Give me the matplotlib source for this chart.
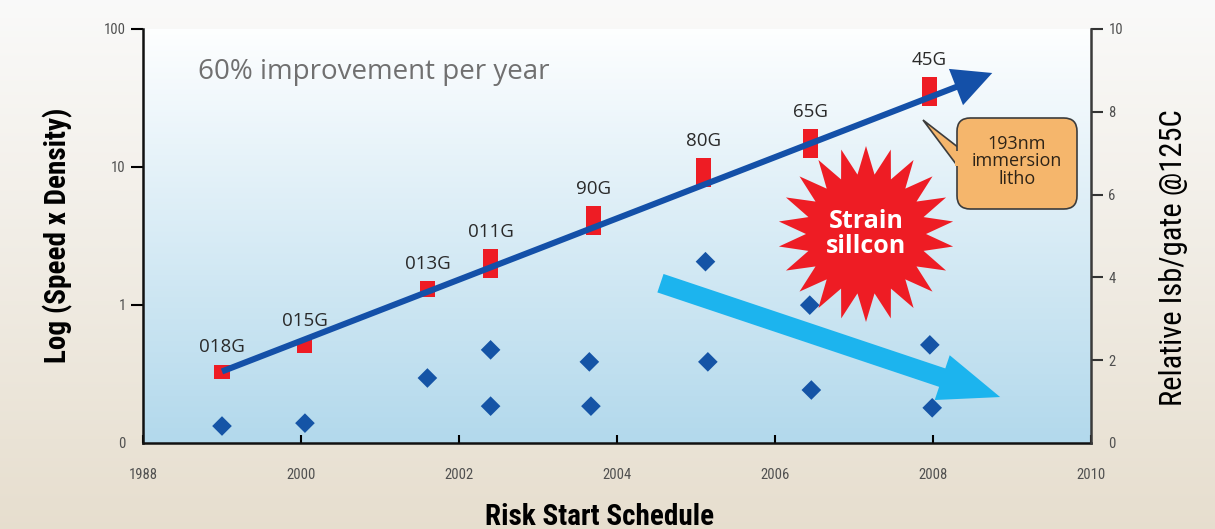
import numpy as np
import matplotlib
matplotlib.use("Agg")
import matplotlib.pyplot as plt
from matplotlib import font_manager
from matplotlib.patches import FancyArrowPatch, Polygon, FancyBboxPatch

# ---- data -------------------------------------------------------------
node_labels = ["018G", "015G", "013G", "011G", "90G", "80G", "65G", "45G"]
node_years = [1999.0, 2000.05, 2001.6, 2002.4, 2003.7, 2005.1, 2006.45, 2007.95]
perf_low = [0.29, 0.45, 1.14, 1.57, 3.2, 7.2, 11.6, 27.7]
perf_high = [0.37, 0.57, 1.49, 2.55, 5.2, 11.6, 18.8, 44.9]

trend_years = [1999.0, 2008.75]
trend_values = [0.33, 48.0]

isb_years = [1999.0, 2000.05, 2001.6, 2002.4, 2002.4, 2003.65, 2003.67,
             2005.12, 2005.15, 2006.44, 2006.46, 2007.96, 2007.99]
isb_values = [0.41, 0.48, 1.57, 2.25, 0.89, 1.96, 0.89,
              4.38, 1.96, 3.33, 1.28, 2.37, 0.85]

isb_trend_years = [2004.55, 2008.85]
isb_trend_values = [3.86, 1.11]

x_ticks = [1998, 2000, 2002, 2004, 2006, 2008, 2010]
x_tick_labels = ["1988", "2000", "2002", "2004", "2006", "2008", "2010"]
left_ticks = [0.1, 1, 10, 100]
left_tick_labels = ["0", "1", "10", "100"]
right_ticks = [0, 2, 4, 6, 8, 10]
right_tick_labels = ["0", "2", "4", "6", "8", "10"]

# ---- fonts ------------------------------------------------------------
available = {f.name for f in font_manager.fontManager.ttflist}


def pick(*names):
    for n in names:
        if n in available:
            return n
    return "DejaVu Sans"


narrow = pick("Liberation Sans Narrow", "Roboto Condensed", "Open Sans", "DejaVu Sans")
body = pick("Open Sans", "Noto Sans", "DejaVu Sans")

# ---- colours ----------------------------------------------------------
RED = "#ee1c24"
NAVY = "#1450a8"
DIAMOND = "#1554a6"
CYAN = "#1cb4ee"
TICK_GREY = "#505050"

# ---- figure & layout --------------------------------------------------
W, H = 1215, 529
fig = plt.figure(figsize=(W / 100, H / 100), dpi=100)
L, R, B, T = 143 / W, 1091 / W, 1 - 443 / H, 1 - 29 / H
AX_W, AX_H = 948, 414


def frac(px, py):
    """Pixel offsets inside the plot frame -> axes fraction."""
    return ((px - 143) / AX_W, (443 - py) / AX_H)


def vgrad(top, bottom, n=256):
    t = np.linspace(0, 1, n)[:, None, None]
    return np.array(top)[None, None, :] * (1 - t) + np.array(bottom)[None, None, :] * t


# page background
bg = fig.add_axes([0, 0, 1, 1], zorder=0)
bg.axis("off")
bg.imshow(vgrad((0.98, 0.98, 0.978), (0.905, 0.872, 0.810)),
          aspect="auto", extent=[0, 1, 0, 1])
bg.set_xlim(0, 1)
bg.set_ylim(0, 1)

# plot-area background
pbg = fig.add_axes([L, B, R - L, T - B], zorder=1)
pbg.axis("off")
pbg.imshow(vgrad((0.995, 0.998, 1.0), (0.70, 0.85, 0.925)),
           aspect="auto", extent=[0, 1, 0, 1])
pbg.set_xlim(0, 1)
pbg.set_ylim(0, 1)

ax = fig.add_axes([L, B, R - L, T - B], zorder=2)
ax.patch.set_visible(False)
ax2 = ax.twinx()
ax2.set_zorder(3)
ax2.patch.set_visible(False)

# ---- left axis: speed x density (log) -------------------------------
ax.set_yscale("log")
ax.set_xlim(1998, 2010)
ax.set_ylim(0.1, 100)

ax.bar(node_years, np.array(perf_high) - np.array(perf_low), bottom=perf_low,
       width=0.19, color=RED, zorder=2)
for lab, yr, hi in zip(node_labels, node_years, perf_high):
    ax.annotate(lab, (yr, hi), xytext=(0, 6), textcoords="offset points",
                ha="center", va="bottom", fontsize=13.5, color="#2a2a2a",
                family=body, zorder=4)

trend = FancyArrowPatch((trend_years[0], trend_values[0]),
                        (trend_years[1], trend_values[1]),
                        arrowstyle="simple,head_length=28,head_width=28,tail_width=4.4",
                        mutation_scale=1, shrinkA=0, shrinkB=0,
                        color=NAVY, lw=0, zorder=3)
ax.add_patch(trend)

ax.text(*frac(198, 72), "60% improvement per year", transform=ax.transAxes,
        ha="left", va="center", fontsize=20, color="#707070", family=body)

ax.set_xticks(x_ticks)
ax.set_xticklabels(x_tick_labels)
ax.set_yticks(left_ticks)
ax.set_yticklabels(left_tick_labels)
ax.yaxis.set_minor_locator(matplotlib.ticker.NullLocator())
ax.tick_params(axis="x", direction="in", length=6, width=1.5, pad=18,
               labelsize=10.5, labelcolor=TICK_GREY, top=False)
ax.tick_params(axis="y", direction="out", length=8.5, width=1.5, pad=4,
               labelsize=10.5, labelcolor=TICK_GREY, right=False)
ax.yaxis.get_major_ticks()[0].tick1line.set_visible(False)
for lbl in ax.get_xticklabels() + ax.get_yticklabels():
    lbl.set_family(narrow)

for side in ("top", "right"):
    ax.spines[side].set_visible(False)
for side in ("left", "bottom"):
    ax.spines[side].set_linewidth(1.8)
    ax.spines[side].set_color("#111111")

ax.set_ylabel("Log (Speed x Density)", fontsize=21, fontweight="bold",
              family=narrow, va="center")
ax.yaxis.set_label_coords(*frac(58, 235))
ax.set_xlabel("Risk Start Schedule", fontsize=21, fontweight="bold",
              family=narrow, va="center")
ax.xaxis.set_label_coords(*frac(600, 517))

# ---- right axis: relative Isb/gate ----------------------------------
ax2.set_ylim(0, 10)
ax2.set_yticks(right_ticks)
ax2.set_yticklabels(right_tick_labels)
ax2.tick_params(axis="y", direction="out", length=8.5, width=1.5, pad=4,
                labelsize=10.5, labelcolor=TICK_GREY, color="#333333")
ax2.yaxis.get_major_ticks()[0].tick2line.set_visible(False)
for lbl in ax2.get_yticklabels():
    lbl.set_family(narrow)
for side in ("top", "left", "bottom"):
    ax2.spines[side].set_visible(False)
ax2.spines["right"].set_linewidth(1.8)
ax2.spines["right"].set_color("#3a3a3a")
ax2.set_ylabel("Relative Isb/gate @125C", fontsize=22, family=narrow,
               rotation=90, va="center")
ax2.yaxis.set_label_coords(*frac(1173, 258))

isb_arrow = FancyArrowPatch((isb_trend_years[0], isb_trend_values[0]),
                            (isb_trend_years[1], isb_trend_values[1]),
                            arrowstyle="simple,head_length=44,head_width=34,tail_width=14",
                            mutation_scale=1, shrinkA=0, shrinkB=0,
                            color=CYAN, lw=0, zorder=2)
ax2.add_patch(isb_arrow)

# strain-silicon starburst
n_spikes = 22
cx, cy = frac(866, 234)
ang = np.linspace(0, 2 * np.pi, 2 * n_spikes, endpoint=False) + np.pi / 2
rad = np.where(np.arange(2 * n_spikes) % 2 == 0, 88, 60)
star_xy = np.column_stack([cx + rad * np.cos(ang) / AX_W,
                           cy + rad * np.sin(ang) / AX_H])
ax2.add_patch(Polygon(star_xy, closed=True, transform=ax2.transAxes,
                      facecolor=RED, edgecolor="none", zorder=3))
ax2.text(cx, cy, "Strain\nsillcon", transform=ax2.transAxes, ha="center",
         va="center", fontsize=18, fontweight="bold", color="white",
         family=body, linespacing=1.05, zorder=4)

ax2.scatter(isb_years, isb_values, marker="D", s=10 ** 2, color=DIAMOND,
            edgecolors="none", zorder=5)

# immersion-litho callout
BOX_FC = "#f5b66c"
BOX_EC = "#3c3c3c"
bx0, by0 = frac(957, 209)
bx1, by1 = frac(1077, 118)
pointer = [frac(923, 120), frac(959, 148), frac(959, 168)]
ax2.add_patch(Polygon(pointer, closed=True, transform=ax2.transAxes,
                      facecolor=BOX_FC, edgecolor=BOX_EC, lw=1.2, zorder=6))
ax2.add_patch(FancyBboxPatch((bx0, by0), bx1 - bx0, by1 - by0,
                             boxstyle="round,pad=0,rounding_size=0.014",
                             mutation_aspect=AX_W / AX_H,
                             transform=ax2.transAxes, facecolor=BOX_FC,
                             edgecolor=BOX_EC, lw=1.2, zorder=7))
seam = [frac(955, 150.5), frac(962, 150.5), frac(962, 165.5), frac(955, 165.5)]
ax2.add_patch(Polygon(seam, closed=True, transform=ax2.transAxes,
                      facecolor=BOX_FC, edgecolor="none", zorder=8))
ax2.text((bx0 + bx1) / 2, (by0 + by1) / 2 + 0.005, "193nm\nimmersion\nlitho",
         transform=ax2.transAxes, ha="center", va="center", fontsize=13,
         color="#2e2418", family=body, linespacing=0.95, zorder=9)

fig.savefig("out.png", dpi=100)
